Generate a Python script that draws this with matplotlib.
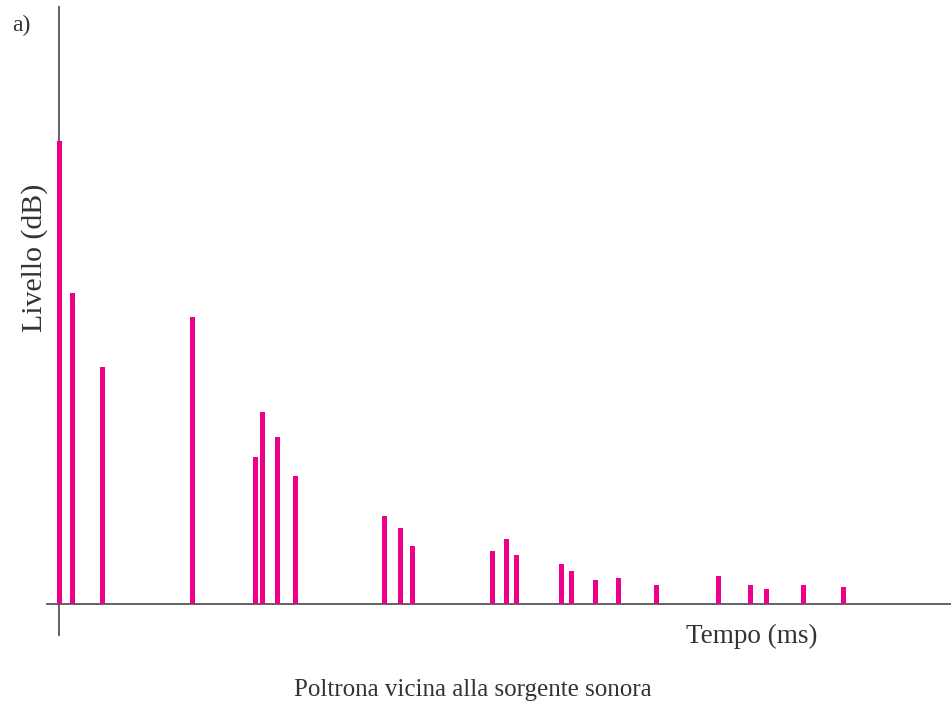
"""
Echogram: level vs time for a seat close to the sound source.
"""

import matplotlib
matplotlib.use('Agg')
import matplotlib.pyplot as plt

# arrival times (ms) and levels (dB above the floor)
times = [0, 3.4, 10.9, 33.4, 49.1, 50.9, 54.6, 59.1,
         81.4, 85.4, 88.4, 108.4, 111.9, 114.4, 125.6, 128.1,
         134.1, 139.9, 149.3, 164.9, 172.8, 176.8, 186.1, 196.1]
levels = [92.6, 62.2, 47.4, 57.4, 29.4, 38.4, 33.4, 25.6,
          17.6, 15.2, 11.6, 10.6, 13.0, 9.8, 8.0, 6.6,
          4.8, 5.2, 3.8, 5.6, 3.8, 3.0, 3.8, 3.4]

bar_color = '#EC008C'
axis_color = '#555555'

plt.rcParams['font.family'] = ['Liberation Serif', 'DejaVu Serif']

fig = plt.figure(figsize=(9.51, 7.09), dpi=100)
ax = fig.add_axes([47 / 951, 74 / 709, 904 / 951, 628 / 709])

ax.bar(times, levels, width=1.25, color=bar_color, zorder=3)

ax.set_xlim(-3, 223)
ax.set_ylim(-6.2, 119.4)

for side in ['top', 'right']:
    ax.spines[side].set_visible(False)
ax.spines['left'].set_position(('data', 0))
ax.spines['bottom'].set_position(('data', 0))
for side in ['left', 'bottom']:
    ax.spines[side].set_color(axis_color)
    ax.spines[side].set_linewidth(1.3)
ax.set_xticks([])
ax.set_yticks([])
ax.patch.set_alpha(0)

fig.text(12 / 951, 1 - 25 / 709, 'a)', fontsize=17, color='#333333',
         ha='left', va='center')
fig.text(35 / 951, 1 - 258 / 709, 'Livello (dB)', fontsize=21.5, color='#333333',
         rotation=90, ha='center', va='center')
fig.text(752 / 951, 1 - 636 / 709, 'Tempo (ms)', fontsize=19.5, color='#333333',
         ha='center', va='center')
fig.text(473 / 951, 1 - 690 / 709, 'Poltrona vicina alla sorgente sonora',
         fontsize=18, color='#333333', ha='center', va='center')

plt.savefig('out.png', dpi=100)
plt.close()
